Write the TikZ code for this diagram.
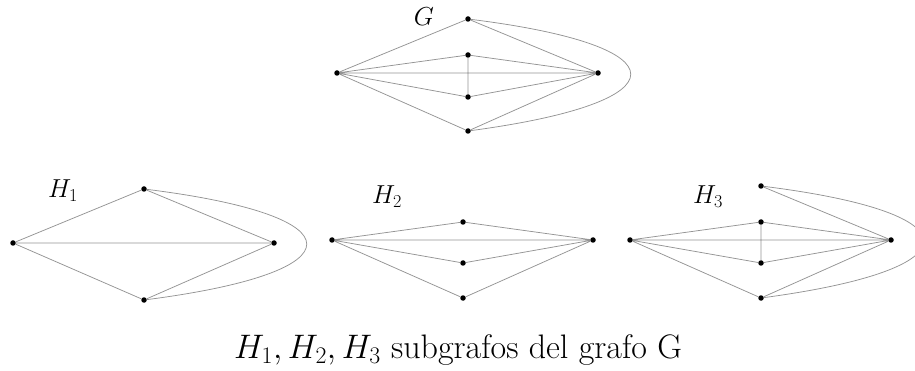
\RequirePackage{fix-cm}
\documentclass[tikz,border=0pt]{standalone}
\begin{document}
\begin{tikzpicture}[x=1pt,y=-1pt,
  dot/.style={circle,fill=black,inner sep=0pt,minimum size=5.5pt},
  edge/.style={draw=black!42,line width=0.75pt},
  lbl/.style={font=\fontsize{26}{28}\selectfont}]
\useasboundingbox (0,0) rectangle (915,371);
% G
\node[dot] (gl) at (337,73) {};
\node[dot] (gt) at (468,19) {};
\node[dot] (gu) at (468,55) {};
\node[dot] (gr) at (598,73) {};
\node[dot] (gw) at (468,97) {};
\node[dot] (gb) at (468,131) {};
\node[lbl] (gG) at (424,17) {$G$};
\path[edge] (gl) -- (gt) (gt) -- (gr) (gl) -- (gu) (gu) -- (gr) (gl) -- (gr)
  (gu) -- (gw) (gl) -- (gw) (gw) -- (gr) (gl) -- (gb) (gb) -- (gr);
\path[edge] (gt) .. controls (684,46) and (684,102) .. (gb);
% H1
\node[dot] (al) at (13,243) {};
\node[dot] (at) at (144,189) {};
\node[dot] (ar) at (274,243) {};
\node[dot] (ab) at (144,300) {};
\node[lbl] (aH) at (63,191) {$H_1$};
\path[edge] (al) -- (at) (at) -- (ar) (al) -- (ar) (al) -- (ab) (ab) -- (ar);
\path[edge] (at) .. controls (360,216) and (360,272) .. (ab);
% H2
\node[dot] (bl) at (332,240) {};
\node[dot] (bu) at (463,222) {};
\node[dot] (br) at (593,240) {};
\node[dot] (bw) at (463,263) {};
\node[dot] (bb) at (463,298) {};
\node[lbl] (bH) at (387,197) {$H_2$};
\path[edge] (bl) -- (bu) (bu) -- (br) (bl) -- (br) (bl) -- (bw) (bw) -- (br)
  (bl) -- (bb) (bb) -- (br);
% H3
\node[dot] (cl) at (630,240) {};
\node[dot] (ct) at (761,186) {};
\node[dot] (cu) at (761,222) {};
\node[dot] (cr) at (891,240) {};
\node[dot] (cw) at (761,263) {};
\node[dot] (cb) at (761,298) {};
\node[lbl] (cH) at (708,197) {$H_3$};
\path[edge] (ct) -- (cr) (cl) -- (cu) (cu) -- (cr) (cu) -- (cw) (cl) -- (cr)
  (cl) -- (cw) (cw) -- (cr) (cl) -- (cb) (cb) -- (cr);
\path[edge] (ct) .. controls (977,213) and (977,269) .. (cb);
% caption
\node[anchor=base,font=\fontsize{34}{38}\selectfont] (cap) at (458,358)
  {$H_1,H_2,H_3$ subgrafos del grafo G};
\end{tikzpicture}
\end{document}
